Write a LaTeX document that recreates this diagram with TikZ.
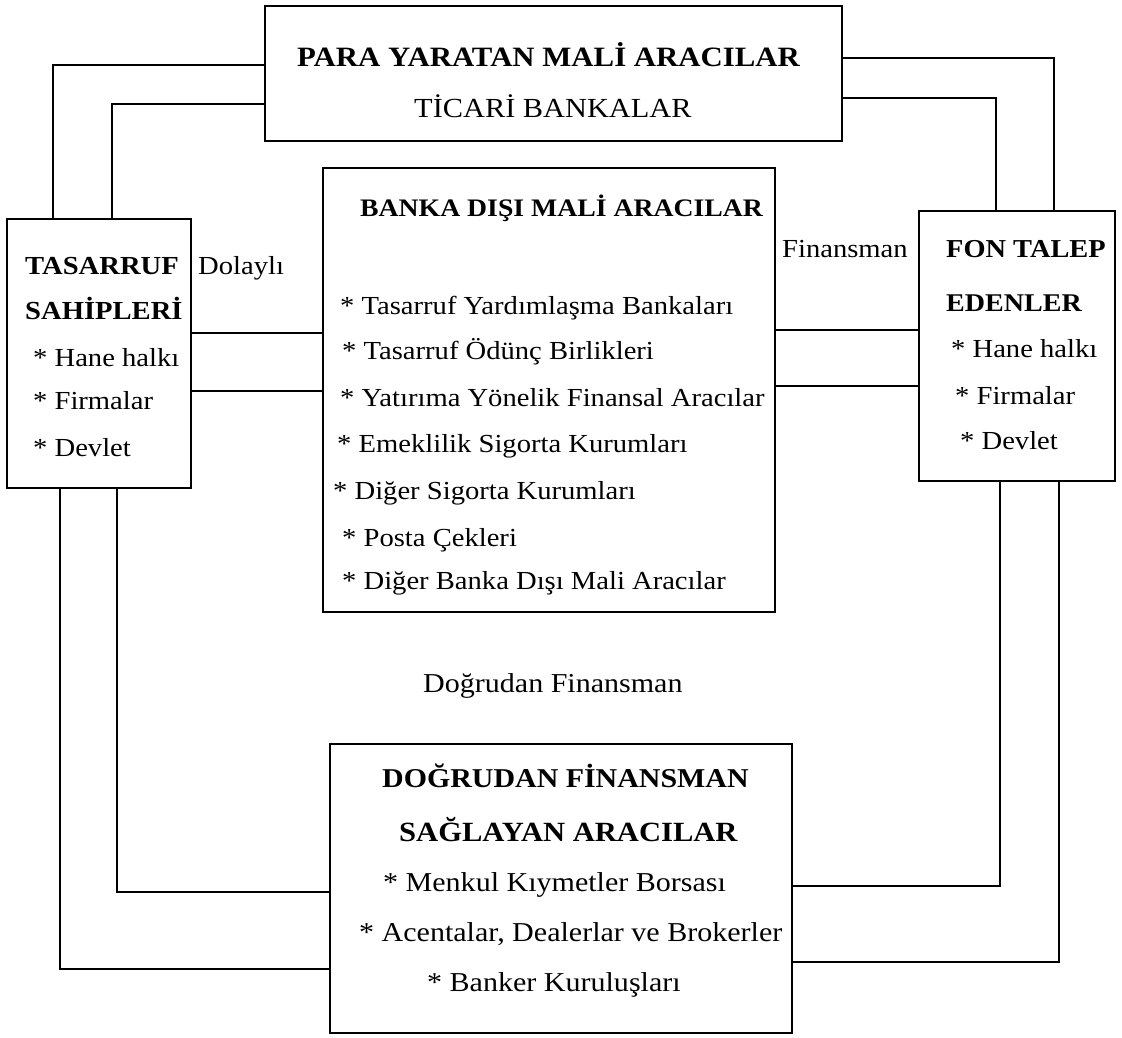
\documentclass[tikz,border=0pt]{standalone}
\usepackage{fontspec}
\setmainfont{Liberation Serif}[FakeStretch=1.1]
\begin{document}
\begin{tikzpicture}[x=1pt,y=-1pt,
  box/.style={draw, line width=2.6pt, inner sep=0pt, fill=none},
  conn/.style={line width=2.4pt},
  txt/.style={anchor=base west, inner sep=0pt, font=\fontsize{#1}{#1}\selectfont},
  txt/.default=26,
  ttl/.style={anchor=base, inner sep=0pt, font=\fontsize{#1}{#1}\selectfont\bfseries},
  ttl/.default=26,
  ttlw/.style={anchor=base west, inner sep=0pt, font=\fontsize{#1}{#1}\selectfont\bfseries},
  ttlw/.default=26]
\useasboundingbox (0,0) rectangle (1122,1037);
% boxes
\node[box, minimum width=577pt, minimum height=135pt] (T) at (553.5,73.5) {};
\node[box, minimum width=184pt, minimum height=269pt] (L) at (99,353.5) {};
\node[box, minimum width=452pt, minimum height=444pt] (C) at (549,390) {};
\node[box, minimum width=196pt, minimum height=270pt] (R) at (1017,346) {};
\node[box, minimum width=462pt, minimum height=289pt] (B) at (561,888.5) {};
% top texts
\node[ttlw=28] (t1) at (297,66) {PARA YARATAN MAL\.I ARACILAR};
\node[txt=27.6] (t2) at (414,117) {T\.ICAR\.I BANKALAR};
% left texts
\node[ttlw] (l1) at (25,274) {TASARRUF};
\node[ttlw] (l2) at (25,319) {SAH\.IPLER\.I};
\node[txt] (l3) at (33,366) {* Hane halkı};
\node[txt] (l4) at (33,409) {* Firmalar};
\node[txt] (l5) at (33,456) {* Devlet};
\node[txt] (dl) at (198,274) {Dolaylı};
% right texts
\node[ttlw=25.8] (r1) at (946,257) {FON TALEP};
\node[ttlw=25.5] (r2) at (946,311) {EDENLER};
\node[txt] (r3) at (951,357) {* Hane halkı};
\node[txt] (r4) at (955,404) {* Firmalar};
\node[txt] (r5) at (960,449) {* Devlet};
\node[txt] (fn) at (782,257) {Finansman};
% center texts
\node[ttlw=25.2] (c0) at (360,216) {BANKA DIŞI MAL\.I ARACILAR};
\node[txt] (c1) at (340,314) {* Tasarruf Yardımlaşma Bankaları};
\node[txt] (c2) at (342,359) {* Tasarruf Ödünç Birlikleri};
\node[txt] (c3) at (340,406) {* Yatırıma Yönelik Finansal Aracılar};
\node[txt] (c4) at (337,452) {* Emeklilik Sigorta Kurumları};
\node[txt] (c5) at (333,499) {* Diğer Sigorta Kurumları};
\node[txt] (c6) at (342,546) {* Posta Çekleri};
\node[txt] (c7) at (342,589) {* Diğer Banka Dışı Mali Aracılar};
% bottom texts
\node[txt=27.3] (df) at (423,692) {Doğrudan Finansman};
\node[ttlw=27.2] (b1) at (382,787) {DOĞRUDAN F\.INANSMAN};
\node[ttlw=27.8] (b2) at (399,841) {SAĞLAYAN ARACILAR};
\node[txt=27.3] (b3) at (383,891) {* Menkul Kıymetler Borsası};
\node[txt=27.3] (b4) at (359,941) {* Acentalar, Dealerlar ve Brokerler};
\node[txt=27.3] (b5) at (427,991) {* Banker Kuruluşları};
% connector corners
\coordinate (lt1) at (53,65);
\coordinate (lt2) at (112,104);
\coordinate (rt1) at (1054,58);
\coordinate (rt2) at (996,98);
\coordinate (lc1) at (250,333);
\coordinate (lc2) at (250,391);
\coordinate (cr1) at (850,330);
\coordinate (cr2) at (850,386);
\coordinate (lb1) at (60,969);
\coordinate (lb2) at (117,892);
\coordinate (rb1) at (1059,962);
\coordinate (rb2) at (1000,886);
% connectors
\draw[conn] (lt1 |- L.north) -- (lt1) -- (lt1 -| T.west);
\draw[conn] (lt2 |- L.north) -- (lt2) -- (lt2 -| T.west);
\draw[conn] (rt1 |- R.north) -- (rt1) -- (rt1 -| T.east);
\draw[conn] (rt2 |- R.north) -- (rt2) -- (rt2 -| T.east);
\draw[conn] (lc1 -| L.east) -- (lc1 -| C.west);
\draw[conn] (lc2 -| L.east) -- (lc2 -| C.west);
\draw[conn] (cr1 -| C.east) -- (cr1 -| R.west);
\draw[conn] (cr2 -| C.east) -- (cr2 -| R.west);
\draw[conn] (lb1 |- L.south) -- (lb1) -- (lb1 -| B.west);
\draw[conn] (lb2 |- L.south) -- (lb2) -- (lb2 -| B.west);
\draw[conn] (rb1 |- R.south) -- (rb1) -- (rb1 -| B.east);
\draw[conn] (rb2 |- R.south) -- (rb2) -- (rb2 -| B.east);
\end{tikzpicture}
\end{document}
